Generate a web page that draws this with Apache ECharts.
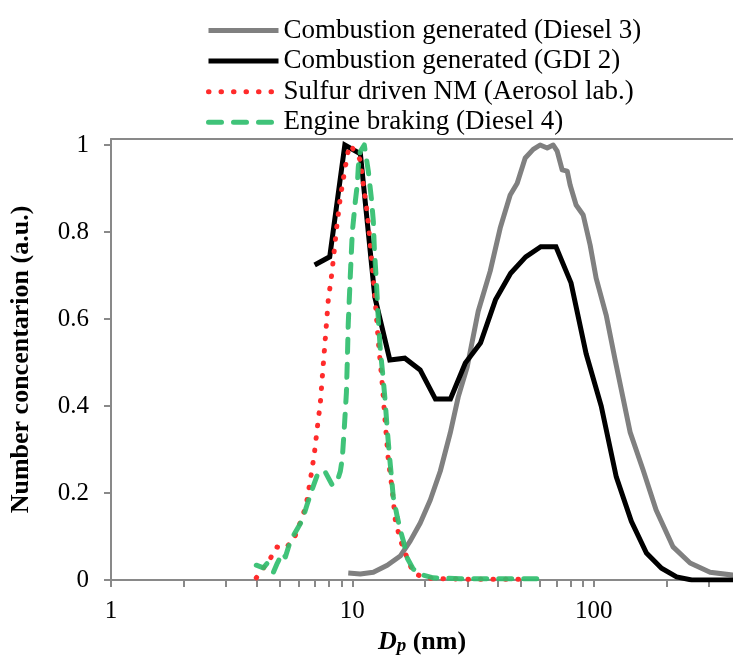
<!DOCTYPE html>
<html>
<head>
<meta charset="utf-8">
<script src="https://cdn.jsdelivr.net/npm/echarts@6/dist/echarts.min.js"></script>
<style>
html,body{margin:0;padding:0;background:#fff;}
#chart{width:733px;height:664px;}
</style>
</head>
<body>
<div id="chart"></div>
<script>
// ---- data ----
const seriesNames = [
  'Combustion generated (Diesel 3)',
  'Combustion generated (GDI 2)',
  'Sulfur driven NM (Aerosol lab.)',
  'Engine braking (Diesel 4)'
];

const diesel3X = [9.62, 10.79, 12.22, 13.96, 15.80, 17.39, 19.12, 21.04, 23.14, 25.46, 27.48, 29.94, 33.24, 37.27, 41.0, 45.1, 48.22, 52.05, 56.17, 60.0, 64.2, 67.98, 70.6, 74.06, 77.7, 79.9, 84.6, 90.5, 96.7, 102.4, 112.7, 122.8, 141.6, 160.3, 181.5, 213.4, 251, 303.8, 380];
const diesel3Y = [0.016, 0.014, 0.018, 0.034, 0.055, 0.09, 0.131, 0.184, 0.25, 0.338, 0.421, 0.49, 0.618, 0.71, 0.809, 0.885, 0.912, 0.97, 0.99, 1.0, 0.993, 1.0, 0.986, 0.943, 0.94, 0.908, 0.862, 0.839, 0.77, 0.694, 0.609, 0.506, 0.34, 0.253, 0.161, 0.076, 0.039, 0.018, 0.011];

const gdi2X = [6.98, 8.06, 9.31, 10.8, 12.4, 14.3, 16.5, 19.1, 22.1, 25.5, 29.4, 34.0, 39.2, 45.3, 52.3, 60.4, 69.8, 80.6, 93.1, 107.5, 124.1, 143.3, 165.5, 191.1, 220.7, 254.8, 294.3, 339.8, 392.4];
const gdi2Y = [0.724, 0.743, 1.0, 0.98, 0.65, 0.506, 0.51, 0.483, 0.416, 0.416, 0.499, 0.545, 0.644, 0.705, 0.743, 0.766, 0.766, 0.683, 0.52, 0.40, 0.237, 0.135, 0.062, 0.027, 0.007, 0, 0, 0, 0];

const sulfurX = [4.00, 4.58, 4.85, 5.23, 5.70, 6.21, 6.45, 6.70, 6.96, 7.16, 7.37, 7.51, 7.73, 7.95, 8.19, 8.34, 8.59, 8.92, 9.35, 9.72, 10.29, 10.79, 11.10, 11.43, 11.65, 11.87, 12.10, 12.45, 12.81, 13.31, 13.70, 14.10, 14.64, 15.07, 15.80, 16.90, 17.89, 20.06, 22.49, 28.0, 37.3, 54.6];
const sulfurY = [0.005, 0.05, 0.076, 0.072, 0.091, 0.145, 0.175, 0.23, 0.29, 0.35, 0.407, 0.467, 0.556, 0.644, 0.697, 0.736, 0.805, 0.88, 0.949, 1.0, 0.986, 0.965, 0.91, 0.86, 0.82, 0.77, 0.72, 0.64, 0.55, 0.45, 0.36, 0.276, 0.207, 0.138, 0.092, 0.05, 0.016, 0.005, 0.003, 0.002, 0.002, 0.002];

const brakingX = [4.00, 4.28, 4.45, 4.71, 4.89, 5.13, 5.28, 5.54, 5.92, 6.21, 6.51, 6.83, 7.23, 7.73, 8.26, 8.67, 8.92, 9.09, 9.27, 9.45, 9.53, 9.62, 9.81, 10.0, 10.29, 10.49, 10.59, 10.79, 11.21, 11.65, 11.99, 12.22, 12.34, 12.57, 12.81, 13.06, 13.44, 13.70, 13.96, 14.23, 14.51, 14.78, 15.36, 15.80, 16.27, 16.90, 17.89, 19.68, 21.65, 28.0, 41.0, 64.2];
const brakingY = [0.034, 0.028, 0.039, 0.018, 0.039, 0.062, 0.053, 0.09, 0.118, 0.138, 0.175, 0.21, 0.248, 0.248, 0.218, 0.228, 0.25, 0.28, 0.352, 0.43, 0.5, 0.59, 0.70, 0.80, 0.87, 0.91, 0.95, 0.985, 1.0, 0.94, 0.878, 0.825, 0.76, 0.69, 0.6, 0.53, 0.46, 0.407, 0.345, 0.29, 0.24, 0.191, 0.145, 0.115, 0.09, 0.05, 0.025, 0.011, 0.005, 0.003, 0.003, 0.003];

const xTickValues = [1, 2, 3, 4, 5, 6, 7, 8, 9, 10, 20, 30, 40, 50, 60, 70, 80, 90, 100, 200, 300];
const xLabelValues = [1, 10, 100];
const yTickValues = [0, 0.2, 0.4, 0.6, 0.8, 1];

// ---- chart ----
const zip = (xs, ys) => xs.map((x, i) => [x, ys[i]]);
const FONT = 'Liberation Serif';
const AXIS_COLOR = '#898989';

const chart = echarts.init(document.getElementById('chart'), null, {renderer: 'canvas'});

chart.setOption({
  animation: false,
  backgroundColor: '#fff',
  textStyle: {fontFamily: FONT, color: '#000'},
  grid: {left: 110, right: 0, top: 139, bottom: 84, containLabel: false},
  legend: {
    orient: 'vertical',
    left: 206,
    top: 17,
    padding: 0,
    itemWidth: 70,
    itemHeight: 14,
    itemGap: 3.6,
    data: seriesNames,
    itemStyle: {opacity: 0},
    lineStyle: {width: 'inherit'},
    textStyle: {fontFamily: FONT, fontSize: 27, color: '#000', lineHeight: 27}
  },
  xAxis: [{
    type: 'log',
    logBase: 10,
    min: 1,
    max: 378,
    position: 'bottom',
    axisLine: {show: true, lineStyle: {color: AXIS_COLOR, width: 2}},
    axisTick: {show: true, inside: false, length: 7, lineStyle: {color: AXIS_COLOR, width: 2}, customValues: xTickValues},
    minorTick: {show: false},
    splitLine: {show: false},
    axisLabel: {fontFamily: FONT, fontSize: 25, color: '#000', margin: 19, customValues: xLabelValues},
    name: '{d|D}{p|p}{n| (nm)}',
    nameLocation: 'middle',
    nameGap: 48,
    nameTextStyle: {
      rich: {
        d: {fontFamily: FONT, fontSize: 26, fontWeight: 'bold', fontStyle: 'italic', color: '#000'},
        p: {fontFamily: FONT, fontSize: 19, fontWeight: 'bold', fontStyle: 'italic', color: '#000', padding: [8, 0, 0, 0]},
        n: {fontFamily: FONT, fontSize: 26, fontWeight: 'bold', color: '#000'}
      }
    }
  }, {
    type: 'value',
    position: 'top',
    min: 0, max: 1,
    axisLine: {show: true, onZero: false, lineStyle: {color: AXIS_COLOR, width: 2}},
    axisTick: {show: false},
    axisLabel: {show: false},
    splitLine: {show: false}
  }],
  yAxis: {
    type: 'value',
    min: 0,
    max: 441 / 435,
    axisLine: {show: true, lineStyle: {color: AXIS_COLOR, width: 2}},
    axisTick: {show: true, inside: false, length: 7, lineStyle: {color: AXIS_COLOR, width: 2}, customValues: yTickValues},
    splitLine: {show: false},
    axisLabel: {fontFamily: FONT, fontSize: 25, color: '#000', margin: 22, customValues: yTickValues},
    name: 'Number concentarion (a.u.)',
    nameLocation: 'middle',
    nameGap: 77,
    nameTextStyle: {fontFamily: FONT, fontSize: 26, fontWeight: 'bold', color: '#000'}
  },
  series: [
    {
      name: seriesNames[0], type: 'line', data: zip(diesel3X, diesel3Y),
      symbol: 'none', clip: true, xAxisIndex: 0,
      lineStyle: {color: '#808080', width: 5, join: 'round'},
      itemStyle: {color: '#808080'}
    },
    {
      name: seriesNames[1], type: 'line', data: zip(gdi2X, gdi2Y),
      symbol: 'none', clip: true, xAxisIndex: 0,
      lineStyle: {color: '#000000', width: 5, join: 'miter'},
      itemStyle: {color: '#000000'}
    },
    {
      name: seriesNames[2], type: 'line', data: zip(sulfurX, sulfurY),
      symbol: 'none', clip: true, xAxisIndex: 0,
      lineStyle: {color: '#ff2b2b', width: 5, type: [0.5, 12], cap: 'round', join: 'round'},
      itemStyle: {color: '#ff2b2b'}
    },
    {
      name: seriesNames[3], type: 'line', data: zip(brakingX, brakingY),
      symbol: 'none', clip: true, xAxisIndex: 0,
      lineStyle: {color: '#30be6e', width: 5, type: [13, 12], cap: 'round', join: 'round', opacity: 0.92},
      itemStyle: {color: '#30be6e'}
    }
  ]
});
</script>
</body>
</html>
